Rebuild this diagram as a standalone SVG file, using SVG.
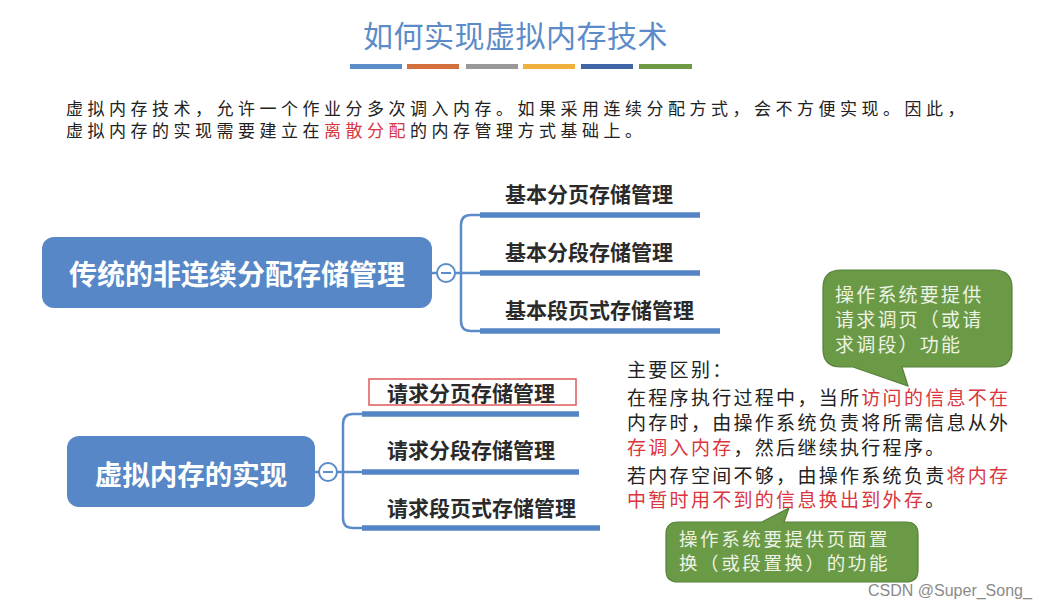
<svg xmlns="http://www.w3.org/2000/svg" width="1045" height="608" viewBox="0 0 1045 608">
<style>
.cjk{font-family:"Noto Sans CJK SC","Noto Sans",sans-serif;}
.title{font-size:30px;fill:#5b8bc9;letter-spacing:0.5px;}
.para{font-size:17px;fill:#222;letter-spacing:4.5px;}
.red{fill:#d9363e;}
.root{fill:#5787c6;}
.roottxt{font-size:28px;font-weight:bold;fill:#fff;text-anchor:middle;}
.lbl{font-size:21px;font-weight:bold;fill:#2a2a2a;}
.conn{fill:none;stroke:#5b8bc9;stroke-width:2.5;}
.bar{stroke:#5585c5;stroke-width:5.5;}
.tog{fill:#fff;stroke:#5b8bc9;stroke-width:2;}
.note{font-size:19px;fill:#222;letter-spacing:2.3px;}
.callout{fill:#6a9a45;stroke:#56803a;stroke-width:1.2;}
.ctxt{font-size:19px;fill:#eef3e6;letter-spacing:2.2px;}
</style>
<rect width="1045" height="608" fill="#fff"/>

<g id="title">
<text class="cjk title" x="363" y="47">如何实现虚拟内存技术</text>
<rect x="350" y="64" width="52" height="5" fill="#5b8ec8"/>
<rect x="407" y="64" width="52" height="5" fill="#d4703e"/>
<rect x="466" y="64" width="52" height="5" fill="#999999"/>
<rect x="523" y="64" width="52" height="5" fill="#f0b03c"/>
<rect x="581" y="64" width="52" height="5" fill="#3f66a6"/>
<rect x="639" y="64" width="53" height="5" fill="#6e9a45"/>
</g>

<g id="intro">
<text class="cjk para" x="66" y="115">虚拟内存技术，允许一个作业分多次调入内存。如果采用连续分配方式，会不方便实现。因此，</text>
<text class="cjk para" x="66" y="137">虚拟内存的实现需要建立在<tspan class="red">离散分配</tspan>的内存管理方式基础上。</text>
</g>

<g id="connectors">
<path class="conn" d="M432,273 H437"/>
<path class="conn" d="M455,273 H480"/>
<path class="conn" d="M480,215 H471 Q461,215 461,225 V321 Q461,331 471,331 H480"/>
<line class="bar" x1="480" y1="215" x2="700" y2="215"/>
<line class="bar" x1="480" y1="273" x2="700" y2="273"/>
<line class="bar" x1="480" y1="331" x2="720" y2="331"/>
<path class="conn" d="M315,472 H319"/>
<path class="conn" d="M337,472 H362"/>
<path class="conn" d="M362,414 H353 Q343,414 343,424 V518 Q343,528 353,528 H362"/>
<line class="bar" x1="362" y1="414" x2="579" y2="414"/>
<line class="bar" x1="362" y1="472" x2="579" y2="472"/>
<line class="bar" x1="362" y1="528" x2="600" y2="528"/>
</g>

<g id="root1">
<rect class="root" x="42" y="237" width="390" height="71" rx="12"/>
<text class="cjk roottxt" x="237" y="285">传统的非连续分配存储管理</text>
</g>
<g id="toggle1">
<circle class="tog" cx="446" cy="273" r="9"/>
<line x1="441" y1="273" x2="451" y2="273" stroke="#5b8bc9" stroke-width="2"/>
</g>
<g id="n-basic-page"><text class="cjk lbl" x="505" y="202">基本分页存储管理</text></g>
<g id="n-basic-seg"><text class="cjk lbl" x="505" y="260">基本分段存储管理</text></g>
<g id="n-basic-segpage"><text class="cjk lbl" x="505" y="318">基本段页式存储管理</text></g>

<g id="root2">
<rect class="root" x="67" y="436" width="248" height="71" rx="12"/>
<text class="cjk roottxt" x="191" y="485" style="font-size:27.5px">虚拟内存的实现</text>
</g>
<g id="toggle2">
<circle class="tog" cx="328" cy="472" r="9"/>
<line x1="323" y1="472" x2="333" y2="472" stroke="#5b8bc9" stroke-width="2"/>
</g>
<g id="n-req-page">
<rect x="369" y="379" width="207" height="26" fill="none" stroke="#e05a5a" stroke-width="1.5"/>
<text class="cjk lbl" x="387" y="401">请求分页存储管理</text>
</g>
<g id="n-req-seg"><text class="cjk lbl" x="387" y="458">请求分段存储管理</text></g>
<g id="n-req-segpage"><text class="cjk lbl" x="387" y="516">请求段页式存储管理</text></g>

<g id="notes">
<text class="cjk note" x="627" y="377">主要区别：</text>
<text class="cjk note" x="627" y="405">在程序执行过程中，当所<tspan class="red">访问的信息不在</tspan></text>
<text class="cjk note red" x="627" y="430">内存时，由操作系统负责将所需信息从外</text>
<text class="cjk note" x="627" y="455"><tspan class="red">存调入内存</tspan>，然后继续执行程序。</text>
<text class="cjk note" x="627" y="483">若内存空间不够，由操作系统负责<tspan class="red">将内存</tspan></text>
<text class="cjk note" x="627" y="507"><tspan class="red">中暂时用不到的信息换出到外存</tspan>。</text>
</g>

<g id="callout1">
<path class="callout" d="M841,270 H994 Q1012,270 1012,288 V349 Q1012,367 994,367 H902 L908,386 L853,367 H841 Q823,367 823,349 V288 Q823,270 841,270 Z"/>
<text class="cjk ctxt" x="835" y="302">操作系统要提供</text>
<text class="cjk ctxt" x="835" y="327">请求调页（或请</text>
<text class="cjk ctxt" x="835" y="352">求调段）功能</text>
</g>

<g id="callout2">
<path class="callout" d="M678,522 H762 L789,508 L784,522 H906 Q918,522 918,534 V570 Q918,582 906,582 H678 Q666,582 666,570 V534 Q666,522 678,522 Z"/>
<text class="cjk ctxt" x="679" y="546" style="font-size:18.5px;letter-spacing:2.6px">操作系统要提供页面置</text>
<text class="cjk ctxt" x="679" y="570" style="font-size:18.5px;letter-spacing:2.6px">换（或段置换）的功能</text>
</g>

<g id="watermark">
<text x="868" y="596" font-family="Liberation Sans, sans-serif" font-size="16" fill="#8a8a8a">CSDN @Super_Song_</text>
</g>
</svg>
